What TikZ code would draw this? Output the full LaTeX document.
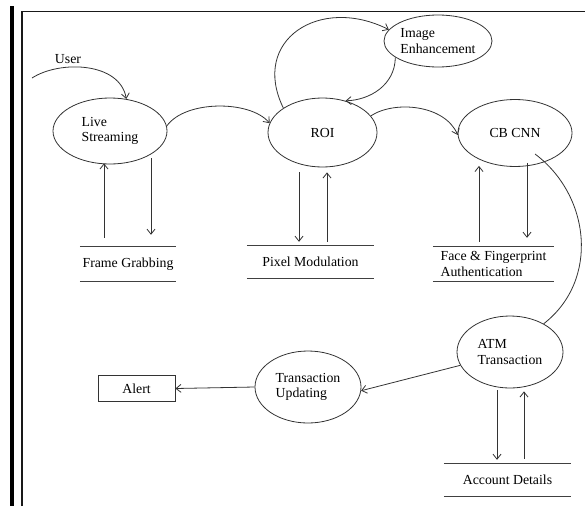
\documentclass[tikz,border=0pt]{standalone}
\usepackage{fontspec}
\setmainfont{Liberation Serif}
\usetikzlibrary{shapes.geometric,arrows.meta,calc}
\begin{document}
\begin{tikzpicture}[x=1pt,y=-1pt,
  every node/.style={font=\fontsize{13.8}{15.5}\selectfont, text=black},
  proc/.style={ellipse, draw=black!80, line width=0.8pt, inner sep=0pt, align=left},
  store/.style={inner sep=0pt, align=left},
  flow/.style={draw=black!80, line width=0.8pt, -{Straight Barb[length=5pt,width=8pt]}},
  plain/.style={draw=black!80, line width=0.8pt},
  storeline/.style={draw=black!75, line width=0.9pt},
]
\useasboundingbox (0,0) rectangle (585,506);
% frame
\fill[black] (10,6) rectangle (14,506);
\draw[line width=1.5pt, black!90] (22,506) -- (22,11.5) -- (585,11.5);

% processes
\node[proc, minimum width=114pt, minimum height=66pt] (ls) at (110,131) {Live\\Streaming};
\node[proc, minimum width=109pt, minimum height=69pt] (roi) at (322.5,132.5) {ROI};
\node[proc, minimum width=108pt, minimum height=52pt] (ie) at (438,41) {Image\\Enhancement};
\node[proc, minimum width=114pt, minimum height=67pt] (cb) at (515,133) {CB CNN};
\node[proc, minimum width=106pt, minimum height=72pt] (atm) at (510,352) {ATM\\Transaction};
\node[proc, minimum width=106pt, minimum height=72pt] (tu) at (308,387) {Transaction\\Updating};
\node[draw=black!80, line width=0.8pt, minimum width=77pt, minimum height=26pt, inner sep=0pt] (alert) at (136.5,388.5) {Alert};

% data stores
\node[store, minimum width=96pt, minimum height=34pt] (fg) at (128,264) {Frame Grabbing};
\node[store, minimum width=127pt, minimum height=32pt] (pm) at (310.5,262) {Pixel Modulation};
\node[store, minimum width=121pt, minimum height=34pt] (ff) at (493.5,264) {Face \& Fingerprint\\Authentication};
\node[store, minimum width=127pt, minimum height=32pt] (ad) at (507.5,480) {Account Details};
\foreach \n in {fg,pm,ff,ad}
  \draw[storeline] (\n.north west) -- (\n.north east) (\n.south west) -- (\n.south east);

% user
\node (user) at (68,59) {User};
\coordinate (us) at (32,78);
\draw[flow] (us) .. controls (60,60) and (120,62) .. (ls.63);

% curved flows
\draw[flow] (ls.5) .. controls (185,100) and (250,100) .. (roi.170);
\draw[flow] (roi.148) .. controls (250,40) and (320,-5) .. (ie.167);
\draw[flow] (ie.201) .. controls (395,85) and (370,100) .. (roi.54);
\draw[flow] (roi.19) .. controls (395,100) and (445,105) .. (cb.182);
\coordinate (cbt) at ($(cb.center)+(20,21)$);
\draw[plain] (cbt) .. controls (590,195) and (600,280) .. (atm.40);
\draw[flow] (atm.195) -- (tu.-4);
\draw[flow] (tu.west) -- (alert.east);

% vertical flows
\draw[flow] ([xshift=-24pt,yshift=9pt]fg.north) -- ([xshift=-6pt,yshift=1pt]ls.south);
\draw[flow] ([xshift=41pt,yshift=6pt]ls.south) -- ([xshift=23pt,yshift=12pt]fg.north);
\draw[flow] ([xshift=-23.5pt,yshift=-5pt]roi.south) -- ([xshift=-11.5pt,yshift=4pt]pm.north);
\draw[flow] ([xshift=16.5pt,yshift=4pt]pm.north) -- ([xshift=4.5pt,yshift=-5pt]roi.south);
\draw[flow] ([xshift=-14.5pt,yshift=5pt]ff.north) -- ([xshift=-36pt,yshift=1pt]cb.south);
\draw[flow] ([xshift=12pt,yshift=4pt]cb.south) -- ([xshift=33.5pt,yshift=9pt]ff.north);
\draw[flow] ([xshift=-13pt,yshift=-2pt]atm.south) -- ([xshift=-10.5pt,yshift=4pt]ad.north);
\draw[flow] ([xshift=16.5pt,yshift=5pt]ad.north) -- ([xshift=14pt,yshift=-3pt]atm.south);
\end{tikzpicture}
\end{document}
